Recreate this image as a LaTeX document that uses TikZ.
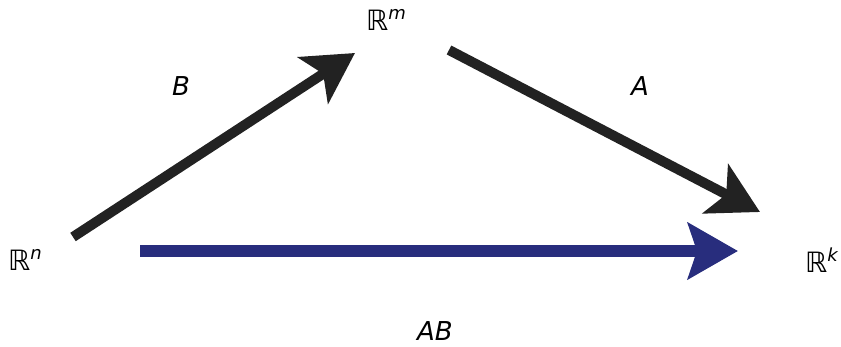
\documentclass[tikz,border=0pt]{standalone}
\usepackage{fontspec}
\setmainfont{DejaVu Sans}
\usetikzlibrary{arrows.meta}
\definecolor{darkline}{RGB}{34,34,34}
\definecolor{bluearrow}{RGB}{40,45,125}
\newcommand{\spacelbl}[1]{{\fontsize{28}{30}\selectfont ℝ}\raisebox{0.45em}{\fontsize{18}{18}\selectfont\itshape #1}}
\begin{document}
\begin{tikzpicture}[x=1pt,y=-1pt,
  lbl/.style={inner sep=0pt,font=\fontsize{26}{30}\selectfont},
  maparrow/.style={line width=10pt,draw=darkline,
    -{Stealth[length=50pt,width=55pt,inset=12pt]}},
  comparrow/.style={line width=12pt,draw=bluearrow,
    -{Stealth[length=50pt,width=56pt,inset=9pt]}}]
\useasboundingbox (0,0) rectangle (841,347);
\node[lbl,anchor=base west] (Rn) at (8,271) {\spacelbl{n}};
\node[lbl,anchor=base west] (Rm) at (366,31) {\spacelbl{m}};
\node[lbl,anchor=base west] (Rk) at (805,273) {\spacelbl{k}};
\node[lbl,anchor=base,font=\fontsize{26}{30}\selectfont\itshape] (Blbl) at (181,96) {B};
\node[lbl,anchor=base,font=\fontsize{26}{30}\selectfont\itshape] (Albl) at (640,96) {A};
\node[lbl,anchor=base,font=\fontsize{26}{30}\selectfont\itshape] (ABlbl) at (435,341) {AB};
\coordinate (b0) at (73,237);
\coordinate (b1) at (355,53);
\coordinate (a0) at (449,50);
\coordinate (a1) at (760,212);
\coordinate (c0) at (140,251);
\coordinate (c1) at (738,251);
\draw[maparrow] (b0) -- (b1);
\draw[maparrow] (a0) -- (a1);
\draw[comparrow] (c0) -- (c1);
\end{tikzpicture}
\end{document}
